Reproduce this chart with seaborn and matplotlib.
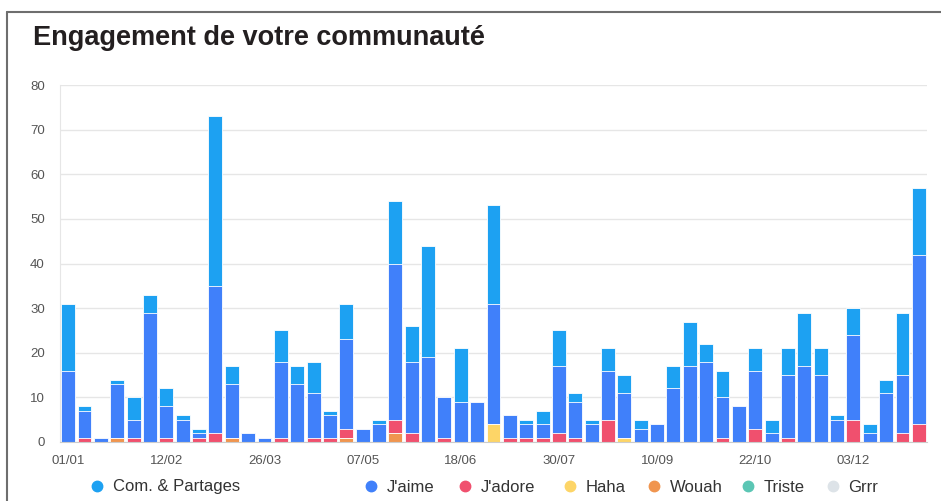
import numpy as np
import pandas as pd
import seaborn as sns
import matplotlib.pyplot as plt
from matplotlib.lines import Line2D

# weekly values, 01/01 -> 31/12
semaines = pd.date_range("2018-01-01", periods=53, freq="7D").strftime("%d/%m").tolist()

com_partages = [15, 1, 0, 1, 5, 4, 4, 1, 1, 38, 4, 0, 0, 7, 4, 7, 1, 8, 0, 1,
                14, 8, 25, 0, 12, 0, 22, 0, 1, 3, 8, 2, 1, 5, 4, 2, 0, 5, 10, 4,
                6, 0, 5, 3, 6, 12, 6, 1, 6, 2, 3, 14, 15]
jaime = [16, 6, 1, 12, 4, 29, 7, 5, 1, 33, 12, 2, 1, 17, 13, 10, 5, 20, 3, 4,
         35, 16, 19, 9, 9, 9, 27, 5, 3, 3, 15, 8, 4, 11, 10, 3, 4, 12, 17, 18,
         9, 8, 13, 2, 14, 17, 15, 5, 19, 2, 11, 13, 38]
jadore = [0, 1, 0, 0, 1, 0, 1, 0, 1, 2, 0, 0, 0, 1, 0, 1, 1, 2, 0, 0,
          3, 2, 0, 1, 0, 0, 0, 1, 1, 1, 2, 1, 0, 5, 0, 0, 0, 0, 0, 0,
          1, 0, 3, 0, 1, 0, 0, 0, 5, 0, 0, 2, 4]
haha = [0] * 26 + [4] + [0] * 7 + [1] + [0] * 18
wouah = [0, 0, 0, 1, 0, 0, 0, 0, 0, 0, 1, 0, 0, 0, 0, 0, 0, 1, 0, 0,
         2] + [0] * 32
triste = [0] * 53
grrr = [0] * 53

tick_labels = ["01/01", "12/02", "26/03", "07/05", "18/06", "30/07", "10/09", "22/10", "03/12"]

series = ["Com. & Partages", "J'aime", "J'adore", "Haha", "Wouah", "Triste", "Grrr"]
couleurs = ["#1da1f2", "#4080fa", "#f0506e", "#fdd567", "#f0954f", "#5bc6b4", "#dde3e8"]

df = pd.DataFrame({"semaine": semaines, "Com. & Partages": com_partages, "J'aime": jaime,
                   "J'adore": jadore, "Haha": haha, "Wouah": wouah,
                   "Triste": triste, "Grrr": grrr})

# stacking, bottom -> top
ordre = ["Grrr", "Triste", "Wouah", "Haha", "J'adore", "J'aime", "Com. & Partages"]
cumul = df[ordre].cumsum(axis=1)

sns.set_style("white")
plt.rcParams["font.family"] = ["Liberation Sans", "DejaVu Sans"]

fig = plt.figure(figsize=(9.41, 5.01), dpi=100)
ax = fig.add_axes([60 / 941, 1 - 442 / 501, 867 / 941, 357 / 501])

# draw the tallest cumulative first, then overdraw lower layers
for nom in reversed(ordre):
    c = couleurs[series.index(nom)]
    sns.barplot(x=df["semaine"], y=cumul[nom], color=c, saturation=1, width=0.85,
                edgecolor="white", linewidth=0.6, ax=ax, order=semaines)

ax.set_ylim(0, 80)
ax.set_xlim(-0.5, 52.5)
ax.set_yticks(range(0, 81, 10))
ax.yaxis.grid(True, color="#e6e6e6", lw=1)
ax.set_axisbelow(True)
pos = [semaines.index(t) for t in tick_labels]
ax.set_xticks(pos)
ax.set_xticklabels(tick_labels)
ax.tick_params(axis="both", length=0, labelsize=9.5, labelcolor="#555555")
ax.tick_params(axis="y", pad=11)
ax.tick_params(axis="x", pad=9)
ax.set_xlabel("")
ax.set_ylabel("")
for s in ["top", "right"]:
    ax.spines[s].set_visible(False)
ax.spines["left"].set_color("#e6e6e6")
ax.spines["bottom"].set_color("#cccccc")

fig.text(33 / 941, 1 - 45 / 501, "Engagement de votre communauté", fontsize=19.5,
         fontweight="bold", color="#231f20", va="baseline")

# outer frame
fig.add_artist(Line2D([7 / 941, 1], [1 - 12 / 501] * 2, color="#6e6e6e", lw=1.5))
fig.add_artist(Line2D([7 / 941] * 2, [0, 1 - 12 / 501], color="#6e6e6e", lw=1.5))

# legend entries, marker centres in pixels
marqueurs_x = [97, 371, 465, 570, 654, 748, 833]
for nom, c, mx in zip(series, couleurs, marqueurs_x):
    h = Line2D([], [], marker="o", ls="", markersize=7.5, markerfacecolor=c, markeredgecolor=c)
    fig.legend([h], [nom], frameon=False, loc="center left", borderaxespad=0, borderpad=0,
               handlelength=1.0, handletextpad=0.43, fontsize=12, labelcolor="#333333",
               bbox_to_anchor=((mx - 8.3) / 941, 1 - 487 / 501))

fig.savefig("out.png", dpi=100)
